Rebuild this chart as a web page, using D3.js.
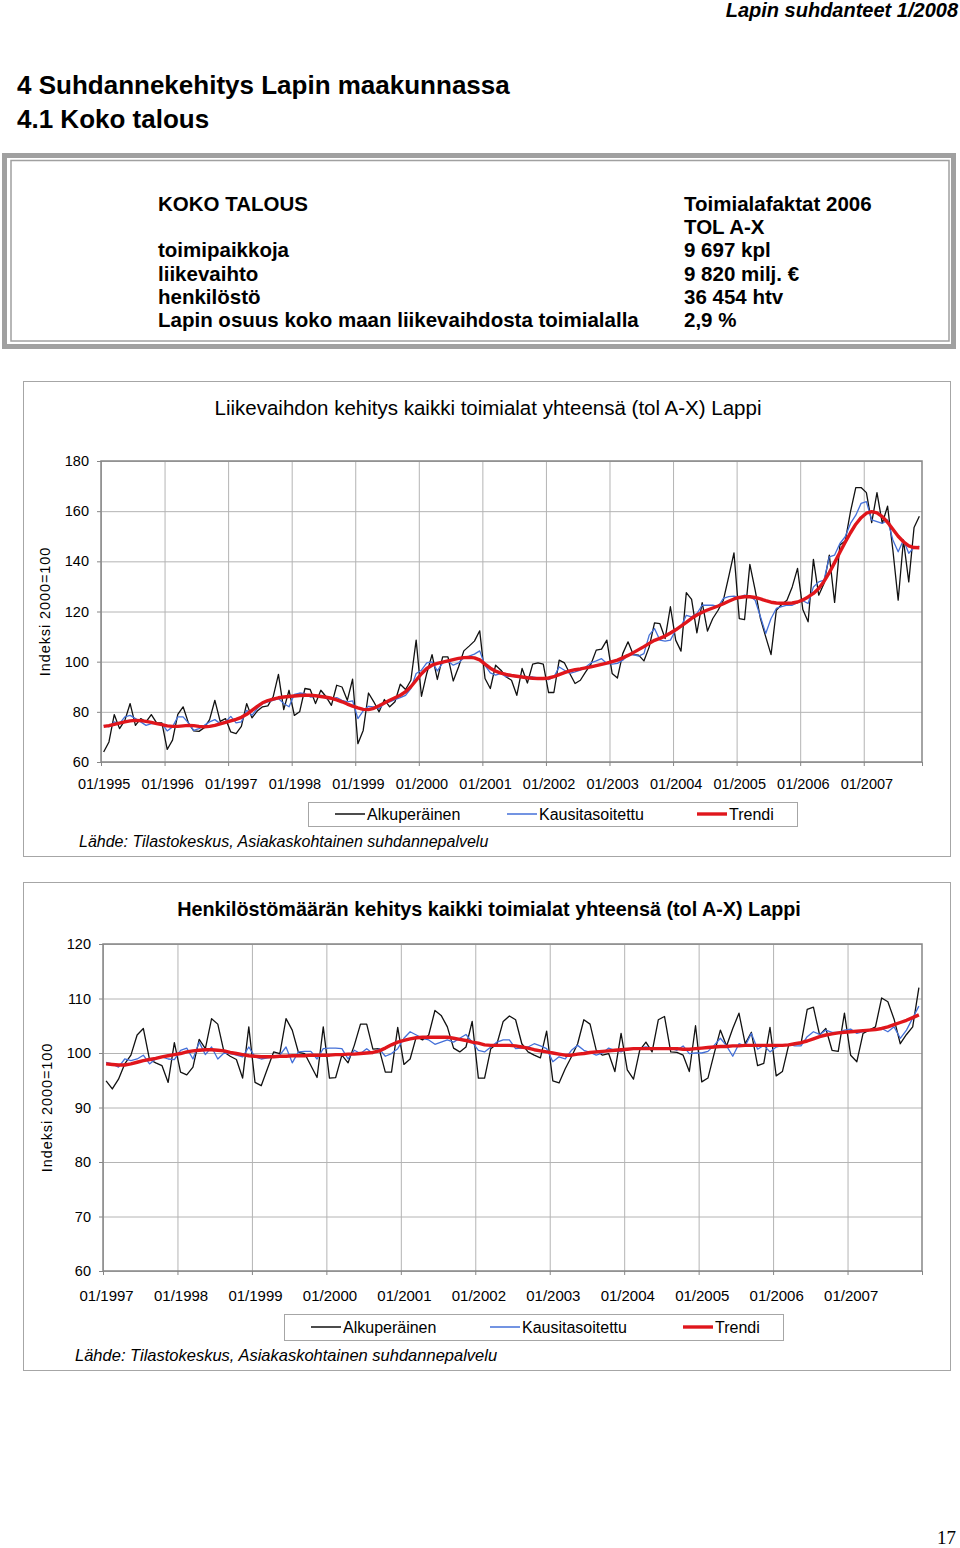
<!DOCTYPE html>
<html>
<head>
<meta charset="utf-8">
<script src="https://cdn.jsdelivr.net/npm/d3@7"></script>
<style>
  body { margin: 0; background: #fff; }
  svg { display: block; font-family: "Liberation Sans", Arial, sans-serif; }
</style>
</head>
<body>
<svg id="page" width="960" height="1548"></svg>
<script>
// ---- data ----
const infoLabels = ['KOKO TALOUS', '', 'toimipaikkoja', 'liikevaihto', 'henkilöstö',
  'Lapin osuus koko maan liikevaihdosta toimialalla'];
const infoValues = ['Toimialafaktat 2006', 'TOL A-X', '9 697 kpl', '9 820 milj. €', '36 454 htv', '2,9 %'];

const legendNames = ['Alkuperäinen', 'Kausitasoitettu', 'Trendi'];

// chart 1: liikevaihto, monthly 01/1995 – 11/2007
const years1 = ['01/1995', '01/1996', '01/1997', '01/1998', '01/1999', '01/2000', '01/2001',
  '01/2002', '01/2003', '01/2004', '01/2005', '01/2006', '01/2007'];
const yTicks1 = [60, 80, 100, 120, 140, 160, 180];
const alku1 = [
  64.0, 68.0, 78.9, 73.3, 76.6, 83.3, 74.6, 77.3, 76.0, 78.9, 75.6, 75.6,
  65.0, 68.7, 79.0, 82.0, 75.6, 72.4, 72.2, 73.7, 76.9, 84.6, 76.2, 77.3,
  72.0, 71.3, 74.2, 83.3, 77.6, 80.3, 82.0, 82.4, 86.0, 94.9, 80.9, 88.6,
  78.6, 80.0, 89.3, 88.9, 83.3, 88.6, 86.0, 82.6, 90.6, 89.9, 84.6, 93.0,
  67.3, 72.6, 87.5, 84.0, 80.0, 84.9, 82.0, 84.0, 91.0, 88.9, 92.6, 108.6,
  86.2, 95.3, 102.8, 92.9, 101.9, 101.9, 92.3, 97.9, 104.3, 106.2, 108.2, 112.3,
  93.3, 89.3, 98.6, 96.6, 93.9, 92.6, 86.6, 97.3, 91.5, 99.0, 99.5, 99.0,
  87.7, 87.7, 100.6, 99.5, 95.3, 91.3, 92.6, 95.9, 99.0, 104.6, 105.0, 108.6,
  95.3, 93.5, 103.2, 107.9, 102.8, 102.6, 100.3, 105.9, 115.5, 115.2, 109.2, 121.9,
  108.6, 104.2, 127.5, 124.8, 111.5, 123.5, 112.2, 117.2, 120.5, 124.5, 133.8, 143.4,
  117.2, 116.8, 138.8, 128.5, 117.2, 109.9, 102.8, 120.5, 122.8, 124.5, 129.8, 137.2,
  120.8, 115.9, 140.8, 126.5, 131.2, 142.5, 123.6, 146.5, 148.1, 159.8, 169.4, 169.4,
  167.4, 155.4, 167.4, 155.1, 162.0, 144.5, 124.5, 148.4, 131.8, 153.5, 158.0
];
const kausi1 = [
  74.6, 74.0, 76.0, 75.3, 78.0, 78.6, 77.3, 76.0, 74.6, 75.3, 75.3, 75.3,
  72.4, 74.0, 78.0, 78.0, 75.6, 72.6, 73.3, 74.6, 76.0, 76.9, 75.3, 76.0,
  78.2, 75.6, 76.0, 80.6, 78.6, 81.3, 83.3, 84.0, 84.6, 85.3, 83.3, 82.0,
  87.0, 87.5, 87.3, 85.9, 86.2, 86.6, 85.3, 85.3, 85.7, 84.6, 84.0, 84.4,
  77.3, 80.4, 82.2, 82.0, 81.3, 83.3, 84.0, 84.9, 85.7, 86.6, 89.3, 95.3,
  96.6, 99.5, 99.9, 96.3, 99.5, 100.3, 98.6, 99.5, 101.6, 102.2, 103.0, 104.3,
  98.5, 95.5, 94.6, 95.3, 93.9, 94.2, 93.9, 93.9, 93.9, 93.9, 93.5, 93.1,
  92.8, 93.9, 97.9, 96.6, 95.3, 95.9, 96.6, 97.9, 99.5, 100.3, 101.2, 99.3,
  99.0, 99.3, 100.6, 102.6, 102.8, 102.2, 103.2, 110.6, 113.2, 108.6, 108.2, 108.6,
  112.6, 113.9, 118.5, 117.9, 119.2, 122.5, 122.5, 122.5, 121.9, 125.2, 125.9, 126.1,
  125.6, 126.5, 126.1, 124.5, 117.9, 111.2, 117.2, 121.2, 121.9, 122.5, 122.5, 123.5,
  124.3, 123.2, 129.8, 131.8, 132.5, 141.8, 142.5, 147.1, 149.8, 155.1, 158.4, 163.1,
  163.8, 156.5, 155.8, 155.1, 156.5, 148.5, 143.8, 148.5, 143.2, 145.5, 146.1
];
const trendi1 = [
  74.2, 74.5, 75.0, 75.5, 76.0, 76.4, 76.6, 76.5, 76.2, 75.8, 75.3, 74.9,
  74.4, 74.2, 74.2, 74.4, 74.6, 74.5, 74.2, 74.0, 74.2, 74.6, 75.2, 75.8,
  76.4, 77.0, 77.8, 79.0, 80.6, 82.2, 83.6, 84.5, 85.1, 85.6, 85.9, 86.1,
  86.3, 86.5, 86.6, 86.6, 86.4, 86.1, 85.8, 85.4, 84.8, 84.0, 83.1, 82.3,
  81.6, 81.0, 80.9, 81.4, 82.4, 83.5, 84.6, 85.6, 86.6, 88.0, 90.0, 92.6,
  95.2, 97.3, 98.6, 99.3, 99.8, 100.3, 100.8, 101.3, 101.6, 101.7, 101.5, 100.7,
  99.0, 97.4, 96.2, 95.4, 94.9, 94.5, 94.2, 93.9, 93.6, 93.4, 93.3, 93.3,
  93.5, 94.0, 94.8, 95.6, 96.3, 96.8, 97.1, 97.5, 97.9, 98.4, 98.9, 99.4,
  100.0, 100.6, 101.5, 102.5, 103.6, 104.8, 106.0, 107.3, 108.5, 109.3, 110.2, 111.4,
  112.7, 114.2, 115.7, 117.3, 118.6, 119.7, 120.6, 121.4, 122.2, 123.1, 124.1, 125.0,
  125.6, 125.9, 125.9, 125.6, 125.0, 124.3, 123.7, 123.4, 123.3, 123.3, 123.4, 123.8,
  124.6, 125.8, 127.2, 129.2, 132.0, 135.5, 139.5, 143.6, 147.6, 151.4, 154.8, 157.4,
  159.2, 159.8, 159.3, 157.8, 155.6, 152.8, 150.0, 147.8, 146.2, 145.5, 145.4
];

// chart 2: henkilöstö, monthly 01/1997 – 12/2007
const years2 = ['01/1997', '01/1998', '01/1999', '01/2000', '01/2001', '01/2002',
  '01/2003', '01/2004', '01/2005', '01/2006', '01/2007'];
const yTicks2 = [60, 70, 80, 90, 100, 110, 120];
const alku2 = [
  94.9, 93.4, 95.2, 98.0, 99.6, 103.3, 104.5, 98.8, 98.2, 97.7, 94.6, 101.9,
  96.5, 96.0, 97.4, 102.5, 100.8, 106.3, 105.3, 100.2, 99.4, 98.8, 95.4, 104.8,
  94.6, 94.0, 97.1, 100.2, 99.9, 106.3, 104.2, 100.1, 99.9, 97.7, 95.5, 104.8,
  95.4, 95.5, 99.6, 98.2, 101.4, 105.3, 105.3, 100.7, 100.8, 96.5, 96.5, 104.7,
  97.9, 98.9, 103.0, 102.4, 103.3, 107.8, 106.9, 104.8, 100.9, 100.2, 101.1, 105.8,
  95.4, 95.4, 100.8, 101.7, 105.8, 106.8, 106.1, 101.7, 100.2, 99.6, 99.1, 104.0,
  94.9, 94.5, 97.1, 99.3, 101.7, 106.1, 105.3, 100.5, 99.6, 99.9, 96.6, 103.6,
  96.9, 95.2, 100.5, 102.0, 100.2, 106.1, 106.7, 100.2, 100.1, 99.6, 96.6, 105.0,
  94.7, 95.4, 99.9, 104.2, 101.3, 104.5, 107.3, 101.7, 103.8, 97.7, 98.1, 104.7,
  95.8, 96.6, 101.4, 101.7, 101.7, 108.0, 108.4, 103.3, 104.5, 100.5, 100.3, 107.3,
  99.6, 98.4, 103.6, 104.2, 104.8, 110.1, 109.4, 106.2, 101.7, 103.4, 104.8, 112.0
];
const kausi2 = [
  98.3, 98.0, 97.4, 98.9, 98.6, 98.9, 99.6, 98.0, 98.9, 99.3, 98.9, 98.8,
  100.5, 100.9, 98.9, 102.0, 99.7, 101.1, 98.9, 100.0, 99.9, 99.6, 99.3, 101.1,
  99.3, 98.9, 99.1, 99.3, 99.6, 101.1, 98.2, 100.2, 100.3, 100.3, 98.9, 100.8,
  100.9, 100.9, 100.8, 98.9, 100.5, 99.9, 100.8, 99.9, 100.8, 99.4, 99.9, 100.8,
  102.7, 103.9, 103.3, 102.7, 102.4, 101.6, 102.0, 102.4, 102.0, 102.7, 103.4, 102.0,
  100.5, 100.2, 101.1, 102.0, 102.4, 102.4, 100.8, 100.9, 101.1, 101.7, 101.3, 100.8,
  98.4, 99.3, 98.9, 100.5, 101.4, 100.5, 100.1, 99.6, 100.0, 100.9, 100.5, 100.2,
  100.8, 100.7, 100.9, 101.1, 100.9, 100.9, 100.8, 100.9, 100.5, 101.3, 99.9, 100.0,
  100.0, 100.3, 101.4, 102.7, 101.3, 99.4, 101.7, 101.3, 103.6, 100.7, 101.4, 100.2,
  101.1, 101.4, 101.6, 101.3, 101.3, 103.0, 103.9, 103.4, 104.2, 103.8, 103.8, 104.2,
  104.4, 103.6, 103.9, 104.2, 104.2, 104.5, 103.9, 104.8, 102.7, 104.2, 106.4, 108.6
];
const trendi2 = [
  98.0, 97.9, 97.8, 97.8, 98.0, 98.3, 98.6, 98.8, 99.0, 99.3, 99.5, 99.7,
  99.9, 100.2, 100.4, 100.5, 100.6, 100.6, 100.5, 100.4, 100.1, 99.9, 99.7, 99.5,
  99.4, 99.3, 99.3, 99.3, 99.4, 99.4, 99.5, 99.5, 99.5, 99.6, 99.6, 99.6,
  99.6, 99.7, 99.7, 99.8, 99.8, 99.9, 100.0, 100.1, 100.4, 100.9, 101.5, 102.0,
  102.3, 102.6, 102.8, 102.9, 102.9, 102.9, 102.9, 102.9, 102.7, 102.5, 102.3, 102.0,
  101.8, 101.5, 101.4, 101.4, 101.4, 101.4, 101.3, 101.1, 100.9, 100.6, 100.4, 100.2,
  100.0, 99.8, 99.6, 99.6, 99.8, 99.9, 100.1, 100.2, 100.3, 100.4, 100.5, 100.6,
  100.7, 100.8, 100.8, 100.8, 100.8, 100.8, 100.8, 100.8, 100.8, 100.7, 100.7, 100.8,
  100.9, 101.0, 101.1, 101.2, 101.2, 101.3, 101.3, 101.4, 101.4, 101.4, 101.4, 101.4,
  101.4, 101.4, 101.5, 101.7, 101.9, 102.2, 102.6, 103.0, 103.3, 103.5, 103.7, 103.8,
  103.9, 104.0, 104.1, 104.2, 104.3, 104.5, 104.8, 105.2, 105.6, 106.0, 106.5, 107.0
];

// ---- styles ----
const FONT = '"Liberation Sans", Arial, sans-serif';
const SERIES_STYLE = [
  { color: '#111111', width: 1.3 },
  { color: '#4470d8', width: 1.3 },
  { color: '#e0161c', width: 3.4 },
];
const GRID = '#b4b4b4', FRAME = '#868686';

const svg = d3.select('#page');

// ---- page header / headings ----
svg.append('text').attr('x', 958).attr('y', 17).attr('text-anchor', 'end')
  .attr('font-size', 20).attr('font-weight', 'bold').attr('font-style', 'italic')
  .text('Lapin suhdanteet 1/2008');
svg.append('text').attr('x', 17).attr('y', 94).attr('font-size', 26).attr('font-weight', 'bold')
  .text('4 Suhdannekehitys Lapin maakunnassa');
svg.append('text').attr('x', 17).attr('y', 128).attr('font-size', 26).attr('font-weight', 'bold')
  .text('4.1 Koko talous');

// ---- info box ----
svg.append('rect').attr('x', 4.5).attr('y', 155.5).attr('width', 949).attr('height', 191)
  .attr('fill', 'none').attr('stroke', '#a0a0a0').attr('stroke-width', 5);
svg.append('rect').attr('x', 11).attr('y', 160.5).attr('width', 938).attr('height', 180.5)
  .attr('fill', 'none').attr('stroke', '#a0a0a0').attr('stroke-width', 1.5);
const infoRowY = d3.scalePoint().domain(d3.range(infoLabels.length)).range([211, 327]);
const info = svg.append('g').attr('font-size', 20.5).attr('font-weight', 'bold');
info.selectAll('text.lab').data(infoLabels).join('text').attr('class', 'lab')
  .attr('x', 158).attr('y', (d, i) => infoRowY(i)).text((d) => d);
info.selectAll('text.val').data(infoValues).join('text').attr('class', 'val')
  .attr('x', 684).attr('y', (d, i) => infoRowY(i)).text((d) => d);

// ---- chart helper ----
function drawChart(cfg) {
  const g = svg.append('g');
  const { box } = cfg;
  g.append('rect').attr('x', box.x + 0.5).attr('y', box.y + 0.5).attr('width', box.w).attr('height', box.h)
    .attr('fill', '#fff').attr('stroke', '#a6a6a6');

  const n = cfg.series[0].length;
  const x = d3.scaleLinear().domain([-0.5, n - 0.5]).range([cfg.left, cfg.right]);
  const y = d3.scaleLinear().domain(d3.extent(cfg.yTicks)).range([cfg.bottom, cfg.top]);
  const yearIdx = cfg.years.map((_, k) => 12 * k);
  const bounds = yearIdx.map((v) => v - 0.5);

  // grid
  const gy = g.append('g').attr('transform', `translate(${cfg.left},0)`)
    .call(d3.axisLeft(y).tickValues(cfg.yTicks).tickSize(-(cfg.right - cfg.left)).tickFormat(''));
  const gx = g.append('g').attr('transform', `translate(0,${cfg.top})`)
    .call(d3.axisBottom(x).tickValues(bounds).tickSize(cfg.bottom - cfg.top).tickFormat(''));
  [gy, gx].forEach((a) => { a.select('.domain').remove(); a.selectAll('line').attr('stroke', GRID); });

  // frame
  g.append('rect').attr('x', cfg.left).attr('y', cfg.top)
    .attr('width', cfg.right - cfg.left).attr('height', cfg.bottom - cfg.top)
    .attr('fill', 'none').attr('stroke', FRAME).attr('stroke-width', 1.5);

  // axes
  const ay = g.append('g').attr('transform', `translate(${cfg.left},0)`)
    .call(d3.axisLeft(y).tickValues(cfg.yTicks).tickSize(4).tickPadding(8));
  const at = g.append('g').attr('transform', `translate(0,${cfg.bottom})`)
    .call(d3.axisBottom(x).tickValues(bounds.concat([n - 0.5])).tickSize(4).tickFormat(''));
  const ax = g.append('g').attr('transform', `translate(0,${cfg.bottom})`)
    .call(d3.axisBottom(x).tickValues(yearIdx).tickSize(0).tickPadding(cfg.xPad)
      .tickFormat((d, i) => cfg.years[i]));
  [ay, at, ax].forEach((a) => {
    a.select('.domain').remove();
    a.attr('font-family', FONT).attr('font-size', 14.5);
    a.selectAll('line').attr('stroke', FRAME);
    a.selectAll('text').attr('fill', '#000');
  });
  ax.attr('font-size', cfg.xFont);

  // series
  const line = d3.line().x((d, i) => x(i)).y((d) => y(d));
  cfg.series.forEach((s, k) => {
    g.append('path').datum(s).attr('d', line).attr('fill', 'none')
      .attr('stroke', SERIES_STYLE[k].color).attr('stroke-width', SERIES_STYLE[k].width)
      .attr('stroke-linejoin', 'round');
  });

  // titles
  g.append('text').attr('x', cfg.titleX).attr('y', cfg.titleY).attr('text-anchor', 'middle')
    .attr('font-size', cfg.titleSize).attr('font-weight', cfg.titleWeight).text(cfg.title);
  g.append('text').attr('transform', `translate(${cfg.yTitleX},${(cfg.top + cfg.bottom) / 2}) rotate(-90)`)
    .attr('text-anchor', 'middle').attr('font-size', 14.5).attr('letter-spacing', 0.9)
    .text('Indeksi 2000=100');

  // legend
  const L = cfg.legend;
  g.append('rect').attr('x', L.x + 0.5).attr('y', L.y + 0.5).attr('width', L.w).attr('height', L.h)
    .attr('fill', '#fff').attr('stroke', '#a6a6a6');
  const items = g.selectAll('g.lg').data(legendNames).join('g').attr('class', 'lg')
    .attr('transform', (d, i) => `translate(${L.x + L.offsets[i]},${L.y + L.h / 2})`);
  items.append('line').attr('x1', 0).attr('x2', 30)
    .attr('stroke', (d, i) => SERIES_STYLE[i].color)
    .attr('stroke-width', (d, i) => (i === 2 ? 3.4 : 1.5));
  items.append('text').attr('x', 32).attr('dy', '0.35em').attr('font-size', 16).text((d) => d);

  g.append('text').attr('x', cfg.srcX).attr('y', cfg.srcY).attr('font-size', cfg.srcSize)
    .attr('font-style', 'italic').text('Lähde: Tilastokeskus, Asiakaskohtainen suhdannepalvelu');
}

drawChart({
  box: { x: 23, y: 381, w: 927, h: 475 },
  left: 101, right: 922, top: 461, bottom: 762,
  yTicks: yTicks1, years: years1, series: [alku1, kausi1, trendi1],
  xPad: 17, xFont: 14.5,
  title: 'Liikevaihdon kehitys kaikki toimialat yhteensä (tol A-X) Lappi',
  titleX: 488, titleY: 415, titleSize: 20.5, titleWeight: 'normal',
  yTitleX: 50,
  legend: { x: 308, y: 802, w: 489, h: 24, offsets: [27, 199, 389] },
  srcX: 79, srcY: 847, srcSize: 16,
});

drawChart({
  box: { x: 23, y: 882, w: 927, h: 488 },
  left: 103, right: 922, top: 944, bottom: 1271,
  yTicks: yTicks2, years: years2, series: [alku2, kausi2, trendi2],
  xPad: 19, xFont: 15,
  title: 'Henkilöstömäärän kehitys kaikki toimialat yhteensä (tol A-X) Lappi',
  titleX: 489, titleY: 916, titleSize: 19.8, titleWeight: 'bold',
  yTitleX: 52,
  legend: { x: 284, y: 1314, w: 499, h: 26, offsets: [27, 206, 399] },
  srcX: 75, srcY: 1361, srcSize: 16.5,
});

// page number
svg.append('text').attr('x', 956).attr('y', 1544).attr('text-anchor', 'end')
  .attr('font-family', '"Liberation Serif", serif').attr('font-size', 19).text('17');
</script>
</body>
</html>
